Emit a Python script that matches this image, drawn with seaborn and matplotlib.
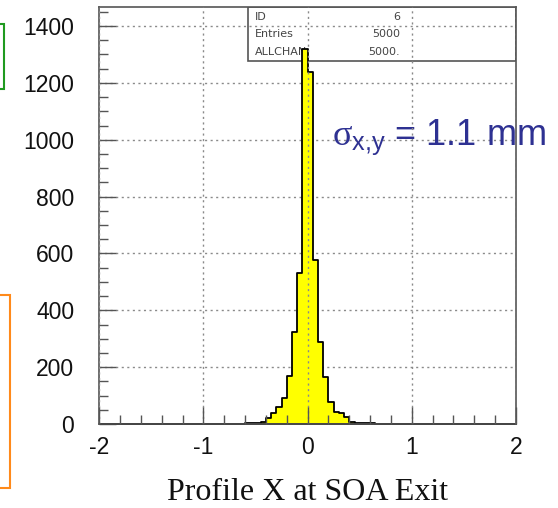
import numpy as np
import pandas as pd
import matplotlib
matplotlib.use("Agg")
import matplotlib.pyplot as plt
from matplotlib.patches import Rectangle
from matplotlib.ticker import MultipleLocator
import seaborn as sns

# Beam profile at the SOA exit: lower bin edges (mm) and entries per bin
bin_low = [-0.70, -0.65, -0.60, -0.55, -0.50, -0.45, -0.40, -0.35, -0.30, -0.25,
           -0.20, -0.15, -0.10, -0.05, 0.00, 0.05, 0.10, 0.15, 0.20, 0.25,
           0.30, 0.35, 0.40, 0.45, 0.50, 0.55, 0.60, 0.65]
counts = [1, 1, 2, 3, 4, 8, 20, 37, 61, 90,
          169, 325, 532, 1320, 1237, 577, 289, 166, 78, 42,
          38, 26, 8, 5, 3, 5, 2, 1]
bin_width = 0.05

x_ticks = [-2, -1, 0, 1, 2]
y_ticks = [0, 200, 400, 600, 800, 1000, 1200, 1400]
stats_names = ["ID", "Entries", "ALLCHAN"]
stats_values = ["6", "5000", "5000."]
x_title = "Profile X at SOA Exit"
sigma_label = r"$\sigma_{\mathrm{x{,}y}}$ = 1.1 mm"

sns.set_style("white")
plt.rcParams["font.family"] = ["Liberation Sans", "DejaVu Sans"]
plt.rcParams["axes.unicode_minus"] = False
plt.rcParams["mathtext.fontset"] = "custom"
plt.rcParams["mathtext.it"] = "Liberation Serif"
plt.rcParams["mathtext.rm"] = "Liberation Sans"
plt.rcParams["mathtext.sf"] = "Liberation Sans"

W, H = 558, 508
fig = plt.figure(figsize=(W / 100, H / 100), dpi=100)
ax = fig.add_axes([99.3 / W, 1 - 424 / H, (516 - 99.3) / W, (424 - 6.7) / H])

df = pd.DataFrame({"x": np.array(bin_low) + bin_width / 2, "n": counts})
sns.histplot(data=df, x="x", weights="n", binwidth=bin_width, binrange=(-2, 2),
             element="step", fill=True,
             facecolor="#ffff00", edgecolor="black", linewidth=1.3, alpha=1,
             ax=ax, zorder=2)

ax.set_xlim(-2, 2)
ax.set_ylim(0, 1468)
ax.set_xticks(x_ticks)
ax.set_yticks(y_ticks)
ax.xaxis.set_minor_locator(MultipleLocator(0.2))
ax.yaxis.set_minor_locator(MultipleLocator(50))
ax.set_xlabel("")
ax.set_ylabel("")

frame_col = "#555555"
for s in ax.spines.values():
    s.set_color(frame_col)
    s.set_linewidth(1.2)

ax.tick_params(axis="both", which="both", bottom=True, left=True,
               top=False, right=False, direction="in")
ax.tick_params(axis="both", which="major", length=12, width=1.0,
               color=frame_col, labelsize=16.5, labelcolor="#111111")
ax.tick_params(axis="both", which="minor", length=6.5, width=1.0,
               color=frame_col)
ax.tick_params(axis="x", which="major", pad=9)
ax.tick_params(axis="y", which="major", pad=18)

# dotted grid: horizontal lines behind the histogram, vertical ones on top
ax.set_axisbelow(True)
ax.grid(True, which="major", axis="both", color="#8a8a8a", linestyle=(0, (1.5, 2.5)),
        linewidth=1.0)
ax.xaxis.set_zorder(3)

# axis title, sitting at the foot of the figure
fig.text(308 / W, 0.002, x_title, ha="center", va="bottom",
         fontfamily="Liberation Serif", fontsize=23, color="#111111")

# statistics box in the upper right corner (texts kept under the histogram)
bx0, by0 = 0.357, 0.870
ax.add_patch(Rectangle((bx0, by0), 1 - bx0, 1 - by0, transform=ax.transAxes,
                       fill=False, edgecolor=frame_col, linewidth=1.2, zorder=1.5))
row_y = [16.7, 34.3, 51.7]
for name, val, ry in zip(stats_names, stats_values, row_y):
    ax.text(255 / W, 1 - ry / H, name, transform=fig.transFigure, ha="left",
            va="center", fontsize=8, fontfamily="DejaVu Sans", color="#444444",
            zorder=0.8)
    ax.text(400 / W, 1 - ry / H, val, transform=fig.transFigure, ha="right",
            va="center", fontsize=8, fontfamily="DejaVu Sans", color="#444444",
            zorder=0.8)

# beam-size annotation, running under the right frame line
ax.text(332 / W, 1 - 145 / H, sigma_label, transform=fig.transFigure,
        ha="left", va="baseline", fontsize=26, color="#2e3192",
        clip_on=False, zorder=0.8)

# frames of neighbouring slide elements
fig.patches.append(Rectangle((-10 / W, 1 - 89 / H), 14 / W, 65 / H,
                             transform=fig.transFigure, fill=False,
                             edgecolor="#1f9a1f", linewidth=1.5))
fig.patches.append(Rectangle((-10 / W, 1 - 488 / H), 20 / W, 193 / H,
                             transform=fig.transFigure, fill=False,
                             edgecolor="#ff8a1a", linewidth=1.5))

fig.savefig("out.png", dpi=100)
